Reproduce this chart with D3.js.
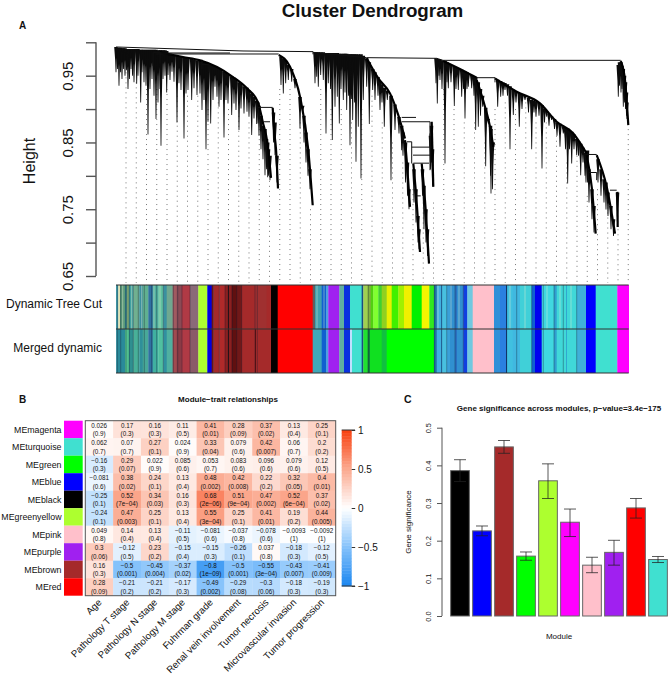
<!DOCTYPE html>
<html>
<head>
<meta charset="utf-8">
<script src="https://cdn.jsdelivr.net/npm/d3@7"></script>
<style>
body { margin: 0; background: #fff; }
text { font-family: "Liberation Sans", Arial, sans-serif; fill: #111; }
</style>
</head>
<body>
<div id="hook"></div>
<script>
// Panel A - dendrogram, x is leaf order, y is height. stems are [leaf, top, bottom]
var stemsFirst = [
[0,.993,.955],[1.5,.992,.96],[3,.992,.935],[4.5,.992,.955],[6,.991,.945],[7.5,.991,.96],[9,.991,.95],[10.5,.99,.958],[12,.99,.93],[13.5,.99,.945],
[15,.99,.96],[16.5,.99,.95],[18,.99,.94],[20.7,.99,.938],[22,.99,.95],[24.7,.989,.91],[26,.989,.955],[28,.989,.94],[30,.989,.935],[32,.989,.862],
[34,.989,.93],[36,.989,.945],[38,.989,.92],[40,.989,.885],[42,.988,.91],[44,.988,.93],[45,.988,.845],[47,.988,.945],[49,.988,.95],[50.7,.987,.925],
[52,.983,.951],[54,.983,.9435],[56,.982,.956],[58,.981,.941],[61,.98,.88],[63,.979,.9385],[65,.979,.9285],[68,.978,.856],[70,.977,.9235],[72,.976,.9285],
[75.7,.975,.9135],[78,.974,.931],[81,.973,.921],[84,.973,.9235],[86,.972,.8985],[88,.971,.9135],[90,.97,.84],[92,.969,.881],[94.7,.967,.8785],[97,.965,.9135],
[99,.964,.9335],[101,.963,.9185],[103,.961,.9035],[105,.959,.9135],[108,.956,.8575],[110,.954,.9135],[112,.952,.9085],[115.7,.949,.891],[118,.947,.9085],[120,.944,.8985],
[123,.94,.8685],[125,.938,.901],[128,.934,.8935],[131,.932,.896],[133,.928,.8885],[135.7,.923,.861],[138,.918,.886],[140.7,.912,.8775],[142,.91,.8785],
[143,.905,.86],[145,.89,.84],[147,.875,.825],[149,.87,.801],[150.5,.855,.81],[151.7,.85,.798],[152.5,.84,.8],[154,.83,.7935],[157.5,.895,.85],[159,.88,.831],[161,.83,.79]
];
var stemsSecond = [
[165,.978,.936],[167.3,.975,.9235],[169.7,.972,.9385],[172.3,.966,.9435],[175.7,.96,.941],[179,.945,.931],[184,.918,.871],[186.7,.905,.8935],
[188,.89,.85],[190,.865,.82],[192,.84,.8],[194,.81,.78]
];
var stemsThird = [
[199,.985,.9385],[200.7,.985,.9485],[202.3,.985,.9335],[204.7,.985,.951],[207.3,.985,.9435],[210,.984,.8635],[212.3,.984,.9385],[214.5,.984,.93],[216.3,.984,.8535],
[219,.984,.9035],[221.3,.984,.9185],[223.3,.983,.8785],[225,.983,.93],[227.3,.983,.9135],[229,.983,.925],[230.7,.983,.8985],[232.5,.982,.92],[234,.982,.846],[235.5,.982,.915],
[236.7,.982,.8835],[238.5,.982,.91],[240,.982,.821],[242.3,.982,.8735],[245,.982,.796],[247.3,.98,.9135],[250.7,.976,.9335],[253.3,.97,.8775],[256.7,.96,.9285],
[259,.955,.9135],[262,.948,.92],[264,.942,.8985],[266,.937,.91],[268.3,.932,.8735],[271.3,.928,.9135],[275,.92,.7935],[279,.907,.8685],[283,.888,.8635],[285.7,.875,.8385],
[287,.865,.83],[289.5,.85,.79],[291.5,.82,.77],[293,.78,.75],[298,.81,.76],[300,.78,.73],[302,.74,.70],[303,.72,.69],[306.5,.81,.77],[308,.785,.72],[310,.75,.70],[311.5,.72,.68],
[314.5,.86,.81],[315.5,.875,.82],[316.5,.84,.785]
];
var stemsFourth = [
[320,.976,.9385],[321.3,.975,.9085],[323,.975,.95],[324,.974,.9435],[326,.973,.93],[329,.972,.8185],[331,.97,.94],[332.3,.968,.931],[335,.966,.94],[338.3,.964,.9045],
[340,.963,.93],[342.3,.961,.9285],[345.7,.959,.9185],[347.5,.957,.93],[349,.956,.886],[351,.955,.93],[352.3,.954,.9335],[355.7,.951,.931],[358,.949,.92],[359.7,.948,.8685],
[362.3,.94,.8735],[364.5,.93,.89],[366.7,.92,.9035],[369.7,.902,.8145],[372.3,.885,.8785],[374.5,.875,.8],[375,.87,.7735],[376.5,.85,.78],[377.3,.85,.8385],
[381.7,.944,.9035],[384.7,.942,.9185],[387,.94,.92],[389,.939,.9285],[391.5,.937,.92],[394,.934,.84],[397.3,.929,.891],[400,.927,.91],[403.3,.924,.8735],[406,.922,.9],
[409,.92,.9135],[412.5,.917,.895],[415.7,.914,.84],[418,.912,.895],[420,.911,.8885],[423,.909,.89],[426,.906,.811],[428.5,.9,.88],[430.7,.897,.8885],[433,.893,.875],
[435.7,.889,.8835],[438.5,.885,.87],[441,.88,.86],[444,.878,.8435],[447.3,.874,.8635],[449.5,.872,.84],[451.7,.871,.7885],[453.5,.868,.84],[455.7,.866,.8185],[458,.862,.84],
[460.7,.855,.831],[462.5,.852,.83],[464.7,.848,.801],[467,.842,.82],[469,.835,.8],[470,.83,.79],[471.5,.838,.79],[473,.81,.76],[476,.78,.735],[478,.755,.715],
[482,.825,.79],[485,.81,.77],[488,.795,.76],[490,.79,.7495],[492,.775,.74],[495,.755,.72],[497.5,.735,.71],[501.5,.775,.725]
];
var stemsLast = [
[502.3,.966,.9185],[503.5,.97,.935],[505,.97,.925],[506,.965,.93],[507.3,.96,.9035],[508.5,.95,.91],[509.5,.94,.9],[510.5,.925,.89],[511,.91,.885]
];

// backbones are runs of [leaf, height]
var arcs = [
[[44,.985],[67,.978],[84,.973],[101,.963],[117,.948],[131,.931],[142,.91],[147,.879],[151,.853],[155,.797]],
[[156.7,.902],[158,.87],[160,.84],[162,.781]],
[[162.7,.981],[174,.9635],[184,.9185],[192.3,.8385],[196.7,.756]],
[[250.7,.976],[262.3,.946],[274,.9235],[282.3,.891],[289,.856]],
[[289,.8535],[290.7,.8235],[294,.7535]],
[[297.3,.8185],[300,.7735],[304,.686]],
[[305.7,.8185],[309,.7635],[313,.6685]],
[[315.7,.881],[317.3,.7835]],
[[327.3,.972],[347.3,.9575],[360.7,.947]],
[[360.7,.9435],[369,.9035],[374,.8735],[377.3,.8435]],
[[379,.946],[400.7,.926],[424,.9085],[440.7,.881],[457.3,.8635],[470.7,.8335]],
[[470.7,.831],[475.7,.7835],[479.7,.7135]],
[[480.7,.831],[490.7,.7835],[499,.7135]],
[[501.3,.776],[501.7,.7235]],
[[504.7,.972],[509,.9435],[512.3,.876]]
];
// thin merge lines, [leaf1, height1, leaf2, height2]
var merges = [
[0,.993,127,.987],[127,.987,197,.986],[40.7,.984,114,.984],[40,.9825,162.7,.9825],[197,.986,197,.982],
[197,.985,250.7,.977],[250.7,.977,320.7,.976],[327,.973,504.7,.973],[320.7,.976,327,.973],
[142,.9025,156.7,.9025],[147.3,.881,154,.881],[285.7,.8875,300,.8875],[285.7,.881,314,.881],[314,.881,314,.843],
[290.7,.851,295.7,.851],[295.7,.851,295.7,.8185],[295.7,.843,315.7,.843],[297,.831,314,.831],[297.3,.819,313,.819],
[314,.8635,314,.8085],[301,.77,304.7,.77],[360.7,.947,379,.947],[379,.947,379,.94],[470.7,.832,480.7,.832],
[494,.7785,500.7,.7785],[473.3,.805,480.7,.805],[480.7,.805,480.7,.7935],[44,.9855,44,.968],[37,.985,44,.985],[37,.985,37,.965],
[86,.974,86,.96],[86,.967,93,.967],[93,.967,93,.955]
];
// height where the dotted guide of each hang starts
var guideTops = [.955,.94,.93,.93,.93,.92,.92,.92,.9,.91,.9,.89,.88,.87,.8,.93,.93,.88,.75,.93,.9,.9,.88,.9,.92,.88,.85,.82,.78,.76,.76,.93,.9,.88,.88,.85,.9,.91,.9,.91,.88,.88,.86,.82,.83,.77,.78,.76,.72,.87];
var heightTicks = [.65,.7,.75,.8,.85,.9,.95,1];
var heightLabels = [.65,.75,.85,.95];

// module colour strips, [end leaf, colour]
var dynamicCut = [
[.3,"#2a8fa0"],[2.3,"#2a8fa0"],[4,"#e0e0b0"],[9,"#5a9a7a"],[10.7,"#2f7f8a"],[13,"#78a070"],[17.3,"#40a0a0"],[23.3,"#70b090"],[26.7,"#3a8fa0"],[32.3,"#60b090"],
[36.7,"#3070a0"],[42.3,"#50b0a0"],[47.3,"#60c0a0"],[50.7,"#3a90a0"],[56.7,"#70a890"],[60.7,"#a05a60"],[65.7,"#8a4a55"],[74,"#b03a45"],[82.3,"#8a6a78"],[91.3,"#adff2f"],
[95.7,"#0000e0"],[97.3,"#701515"],[103.3,"#a52a2a"],[109,"#b02a2a"],[112,"#8a2020"],[113,"#301010"],[115.7,"#8a2020"],[120.7,"#601010"],[125.7,"#701818"],[139,"#a52a2a"],
[150.7,"#a03030"],[155,"#a52a2a"],[161.7,"#000000"],[196.7,"#ff0000"],[199,"#606060"],[205.7,"#40a0b0"],[210,"#1060d0"],[212.3,"#50a0e0"],[223.3,"#a020f0"],[228,"#60b0a0"],
[234,"#0a30e0"],[245.7,"#40e0d0"],[247.3,"#2060a0"],[251.7,"#a0d050"],[254.7,"#80b040"],[257.3,"#50d010"],[262.3,"#80ff30"],[265.7,"#40d030"],[270.7,"#90d020"],[275.7,"#e8f000"],
[282.3,"#40f000"],[288,"#a0f000"],[295.7,"#f0f000"],[305.7,"#00f000"],[313.3,"#f5f500"],[318,"#30e820"],[320.7,"#2070a0"],[325,"#40b0e0"],[326,"#2a80c0"],[331,"#48c0e0"],
[334,"#3aa0d8"],[339,"#3090d0"],[341,"#2a70c0"],[347.3,"#3090d0"],[351.3,"#1040e0"],[356.7,"#70c8e0"],[378,"#ffc0cb"],[384,"#3090d8"],[390,"#2a80e0"],[391,"#104080"],[396.7,"#40c0e0"],
[404,"#40b8e0"],[415.7,"#40d0d8"],[419,"#1060d0"],[425.7,"#0000f0"],[438,"#40d8e0"],[440.7,"#30a0d0"],[450,"#40d8d8"],[451,"#30a8d0"],[460.7,"#40d8d8"],[470,"#40b0d8"],
[479.7,"#0000ff"],[501.3,"#40e0d0"],[512.7,"#ff00ff"]
];
var mergedCut = [
[.3,"#2a8a9a"],[9,"#2a8a9a"],[13,"#50c090"],[17.3,"#2f8f90"],[23.3,"#48b098"],[26.7,"#2f8f9a"],[32.3,"#48a898"],[36.7,"#3070a0"],[42.3,"#40b0a0"],[47.3,"#50c0a0"],
[50.7,"#3090a0"],[56.7,"#50b0a0"],[60.7,"#a04a50"],[65.7,"#8a3a45"],[74,"#b03a45"],[82.3,"#8a5a68"],[91.3,"#adff2f"],[95.7,"#0000e0"],[97.3,"#701515"],[103.3,"#a52a2a"],
[109,"#b02a2a"],[112,"#8a2020"],[113,"#301010"],[115.7,"#8a2020"],[120.7,"#601010"],[125.7,"#701818"],[139,"#a52a2a"],[140,"#601010"],[155,"#a52a2a"],[161.7,"#000000"],
[196.7,"#ff0000"],[205.7,"#40a8b8"],[210,"#1060d0"],[212.3,"#50a0e0"],[223.3,"#a020f0"],[228,"#60b0a0"],[234,"#0a30e0"],[236,"#c0e0ff"],[245.7,"#40e0d0"],[247.3,"#2060a0"],
[251.7,"#20e030"],[254,"#108040"],[265.7,"#10e020"],[270.7,"#10c040"],[318,"#00ff00"],[320.7,"#2070a0"],[325,"#40b0e0"],[326,"#2a80c0"],[331,"#48c0e0"],[334,"#3aa0d8"],
[339,"#3090d0"],[341,"#2a70c0"],[347.3,"#3090d0"],[351.3,"#1040e0"],[356.7,"#70c8e0"],[378,"#ffc0cb"],[384,"#3090d8"],[390,"#2a80e0"],[391,"#104080"],[396.7,"#40c0e0"],
[404,"#40b8e0"],[415.7,"#40d0d8"],[419,"#1060d0"],[425.7,"#0000f0"],[438,"#40d8e0"],[440.7,"#30a0d0"],[450,"#40d8d8"],[451,"#30a8d0"],[460.7,"#40d8d8"],[470,"#40b0d8"],
[479.7,"#0000ff"],[501.3,"#40e0d0"],[512.7,"#ff00ff"]
];
// single thin modules inside the strips, by leaf
var darkLeaves = [1.3,4.7,10,13.3,17.3,22.3,28.3,35.7,40.7,47.3,57.3,61.7,66,74,97.3,103.3,109,112.3,116.3,120.7,125.7,139,141.3,246.3,252.3,318.3,325.7,330.7,339,347.3,390.7,400.7,415.7,427.3,438,447.3,460.7];
var lightLeaves = [2.3,6.7,15.7,25.7,38,44,201,208,322,335,343,394,409,431,444,455];
var stripNames = ["Dynamic Tree Cut", "Merged dynamic"];

// Panel B - module trait table
var modules = ["MEmagenta","MEturquoise","MEgreen","MEblue","MEblack","MEgreenyellow","MEpink","MEpurple","MEbrown","MEred"];
var moduleColors = ["#ff00ff","#40e0d0","#00ff00","#0000ff","#000000","#adff2f","#ffc0cb","#a020f0","#a52a2a","#ff0000"];
var traits = ["Age","Pathology T stage","Pathology N stage","Pathology M stage","Fuhrman grade","Renal vein involvement","Tumor necrosis","Microvascular invasion","Tumor progression"];
var cors = [
[0.026,0.17,0.16,0.11,0.41,0.28,0.37,0.13,0.25],
[0.062,0.07,0.27,0.024,0.33,0.079,0.42,0.06,0.2],
[-0.16,0.29,0.022,0.085,0.053,0.083,0.096,0.079,0.12],
[-0.081,0.38,0.24,0.13,0.48,0.42,0.22,0.32,0.4],
[-0.25,0.52,0.34,0.16,0.68,0.51,0.47,0.52,0.37],
[-0.24,0.47,0.25,0.13,0.55,0.25,0.41,0.19,0.44],
[0.049,0.14,0.13,-0.11,-0.081,-0.037,-0.078,-0.0093,-0.0092],
[0.3,-0.12,0.23,-0.15,-0.15,-0.26,0.037,-0.18,-0.12],
[0.16,-0.5,-0.45,-0.37,-0.8,-0.5,-0.55,-0.43,-0.41],
[0.28,-0.21,-0.21,-0.17,-0.49,-0.29,-0.3,-0.18,-0.19]
];
var pvals = [
["0.9","0.3","0.3","0.5","0.01","0.09","0.02","0.4","0.1"],
["0.7","0.7","0.1","0.9","0.04","0.6","0.007","0.7","0.2"],
["0.3","0.07","0.9","0.6","0.7","0.6","0.6","0.6","0.5"],
["0.6","0.02","0.1","0.4","0.002","0.008","0.2","0.05","0.01"],
["0.1","7e-04","0.03","0.3","2e-06","9e-04","0.002","6e-04","0.02"],
["0.1","0.003","0.1","0.4","3e-04","0.1","0.01","0.2","0.005"],
["0.8","0.4","0.4","0.5","0.6","0.8","0.6","1","1"],
["0.06","0.5","0.2","0.4","0.3","0.1","0.8","0.3","0.5"],
["0.3","0.001","0.004","0.02","1e-09","0.001","3e-04","0.007","0.009"],
["0.09","0.2","0.2","0.3","0.002","0.08","0.06","0.3","0.3"]
];
var legendTicks = [-1,-0.5,0,0.5,1];

// Panel C - gene significance
var barModules = ["black","blue","brown","green","greenyellow","magenta","pink","purple","red","turquoise"];
var barColors = ["#000000","#0000ff","#a52a2a","#00ff00","#adff2f","#ff00ff","#ffc0cb","#a020f0","#ff0000","#40e0d0"];
var barValues = [.386,.226,.449,.159,.359,.249,.135,.169,.287,.150];
var barUpper = [.415,.239,.466,.170,.404,.284,.156,.201,.312,.158];
var barLower = [.357,.213,.432,.148,.312,.211,.115,.135,.260,.142];
var gsTicks = [0,.1,.2,.3,.4,.5];

var svg = d3.select("#hook").append("svg")
    .attr("width", 669)
    .attr("height", 674)
    .style("display", "block");

function minus(s) { return String(s).replace("-", "\u2212"); }

// panel letters and main title
svg.append("text").attr("x", 19).attr("y", 28.5).attr("font-size", 10).attr("font-weight", "bold").text("A");
svg.append("text").attr("x", 19).attr("y", 403).attr("font-size", 10).attr("font-weight", "bold").text("B");
svg.append("text").attr("x", 404).attr("y", 403).attr("font-size", 10.5).attr("font-weight", "bold").text("C");
svg.append("text").attr("x", 372.5).attr("y", 17).attr("text-anchor", "middle").attr("font-size", 18.8).attr("font-weight", "bold").text("Cluster Dendrogram");

// ---------- dendrogram
var x = d3.scaleLinear().domain([0, 512.7]).range([116, 628.7]);
var y = d3.scaleLinear().domain([.65, 1]).range([276, 42.3]);

var guides = svg.append("g");
guideTops.forEach(function(t, i) {
    guides.append("line")
        .attr("x1", x(10 + i * 10.25)).attr("x2", x(10 + i * 10.25))
        .attr("y1", y(t)).attr("y2", 283)
        .attr("stroke", "#777").attr("stroke-width", 1).attr("stroke-dasharray", "1,4");
});

var stems = stemsFirst.concat(stemsSecond, stemsThird, stemsFourth, stemsLast);
svg.append("g").selectAll("path").data(stems).enter().append("path")
    .attr("d", function(d) {
        var cx = x(d[0]), t = y(d[1]), b = y(d[2]), m = (t + b) / 2;
        return "M" + (cx - 1.8) + "," + t + "L" + (cx + 1.8) + "," + t +
               "L" + (cx + 0.85) + "," + m + "L" + (cx + 0.4) + "," + b +
               "L" + (cx - 0.4) + "," + b + "L" + (cx - 0.85) + "," + m + "Z";
    })
    .attr("fill", "#0c0c0c");

var arcLine = d3.line().x(function(d) { return x(d[0]); }).y(function(d) { return y(d[1]); }).curve(d3.curveMonotoneX);
svg.append("g").selectAll("path").data(arcs).enter().append("path")
    .attr("d", arcLine).attr("fill", "none").attr("stroke", "#000").attr("stroke-width", 2.2);

svg.append("g").selectAll("line").data(merges).enter().append("line")
    .attr("x1", function(d) { return x(d[0]); }).attr("y1", function(d) { return y(d[1]); })
    .attr("x2", function(d) { return x(d[2]); }).attr("y2", function(d) { return y(d[3]); })
    .attr("stroke", "#111").attr("stroke-width", 1);

var heightAxis = d3.axisLeft(y).tickValues(heightTicks).tickSize(10)
    .tickFormat(function(d) { return heightLabels.indexOf(d) >= 0 ? d3.format(".2f")(d) : ""; });
var ga = svg.append("g").attr("transform", "translate(96,0)").call(heightAxis);
ga.selectAll("line,path").attr("stroke", "#555").attr("stroke-width", 1.4);
ga.select(".domain").attr("d", "M0," + y(1) + "V" + y(.65));
ga.selectAll("text")
    .attr("font-size", 15).attr("text-anchor", "middle").attr("dy", 0).attr("y", 0).attr("x", 0)
    .attr("transform", "translate(-23,0) rotate(-90)");
svg.append("text").attr("transform", "translate(35,161) rotate(-90)").attr("text-anchor", "middle").attr("font-size", 16).text("Height");

// colour strips
var stripY = d3.scaleBand().domain(stripNames).range([285, 373]);
[dynamicCut, mergedCut].forEach(function(runs, k) {
    var g = svg.append("g");
    g.selectAll("rect").data(runs).enter().append("rect")
        .attr("x", function(d, i) { return x(i ? runs[i - 1][0] : 0); })
        .attr("width", function(d, i) { return x(d[0]) - x(i ? runs[i - 1][0] : 0) + 0.3; })
        .attr("y", stripY(stripNames[k])).attr("height", stripY.bandwidth())
        .attr("fill", function(d) { return d[1]; });
});
svg.append("g").selectAll("line").data(darkLeaves).enter().append("line")
    .attr("x1", function(d) { return x(d); }).attr("x2", function(d) { return x(d); })
    .attr("y1", 285).attr("y2", 373)
    .attr("stroke", "#101830").attr("stroke-opacity", .4).attr("stroke-width", .9);
svg.append("g").selectAll("line").data(lightLeaves).enter().append("line")
    .attr("x1", function(d) { return x(d); }).attr("x2", function(d) { return x(d); })
    .attr("y1", 285).attr("y2", 329)
    .attr("stroke", "#e8f0d0").attr("stroke-opacity", .5).attr("stroke-width", .9);
[285, 329, 373].forEach(function(v) {
    svg.append("line").attr("x1", x(0)).attr("x2", x(512.7)).attr("y1", v).attr("y2", v)
        .attr("stroke", "#333").attr("stroke-width", 1);
});
svg.selectAll(".stripname").data(stripNames).enter().append("text")
    .attr("class", "stripname").attr("x", 102)
    .attr("y", function(d) { return stripY(d) + stripY.bandwidth() / 2 + 1; })
    .attr("text-anchor", "end").attr("font-size", 12).text(function(d) { return d; });

// ---------- heatmap
var hx = d3.scaleBand().domain(traits).range([85.3, 335.7]);
var hy = d3.scaleBand().domain(modules).range([420.7, 595.7]);
var heat = d3.scaleLinear().domain([-1, -0.5, 0, 0.5, 1]).range(["#1a86f0", "#85c2fb", "#ffffff", "#fba98f", "#f8400f"]);

svg.append("text").attr("x", 228).attr("y", 402).attr("text-anchor", "middle").attr("font-size", 8).attr("font-weight", "bold").text("Module\u2212trait relationships");

modules.forEach(function(m, r) {
    var row = svg.append("g");
    row.append("rect").attr("x", 64).attr("y", hy(m)).attr("width", 18.7).attr("height", hy.bandwidth()).attr("fill", moduleColors[r]);
    row.append("text").attr("x", 61.5).attr("y", hy(m) + hy.bandwidth() / 2 + 3.2).attr("text-anchor", "end").attr("font-size", 8.8).text(m);
    traits.forEach(function(t, c) {
        row.append("rect").attr("x", hx(t)).attr("y", hy(m)).attr("width", hx.bandwidth() + .3).attr("height", hy.bandwidth() + .3).attr("fill", heat(cors[r][c]));
        row.append("text").attr("x", hx(t) + hx.bandwidth() / 2).attr("y", hy(m) + 7.2).attr("text-anchor", "middle").attr("font-size", 6.3).text(minus(cors[r][c]));
        row.append("text").attr("x", hx(t) + hx.bandwidth() / 2).attr("y", hy(m) + 15.6).attr("text-anchor", "middle").attr("font-size", 6.3).text("(" + minus(pvals[r][c]) + ")");
    });
});
svg.append("rect").attr("x", 85.3).attr("y", 420.7).attr("width", 250.4).attr("height", 175).attr("fill", "none").attr("stroke", "#555").attr("stroke-width", 1);

svg.selectAll(".trait").data(traits).enter().append("text")
    .attr("class", "trait")
    .attr("transform", function(d) { return "translate(" + (hx(d) + hx.bandwidth() / 2 + 3) + ",603) rotate(-45)"; })
    .attr("text-anchor", "end").attr("font-size", 9.7).text(function(d) { return d; });

// legend
var ly = d3.scaleLinear().domain([-1, 1]).range([586, 430]);
svg.append("g").selectAll("rect").data(d3.range(-1, 1, 0.04)).enter().append("rect")
    .attr("x", 341.7).attr("width", 10)
    .attr("y", function(d) { return ly(d + 0.04); })
    .attr("height", ly(0) - ly(0.04) + .4)
    .attr("fill", function(d) { return heat(d + 0.02); });
var legendAxis = d3.axisRight(ly).tickValues(legendTicks).tickSize(3.5).tickFormat(function(d) { return minus(d); });
var gl = svg.append("g").attr("transform", "translate(351.7,0)").call(legendAxis);
gl.select(".domain").remove();
gl.selectAll("line").attr("stroke", "#333");
gl.selectAll("text").attr("font-size", 10).attr("x", 6.3);
[-1, 1].forEach(function(v) {
    svg.append("line").attr("x1", 341.7).attr("x2", 355).attr("y1", ly(v)).attr("y2", ly(v)).attr("stroke", "#333").attr("stroke-width", 1);
});

// ---------- bars
var bx = d3.scaleBand().domain(barModules).range([449, 669]).paddingInner(.15).paddingOuter(.075);
var by = d3.scaleLinear().domain([0, .5]).range([616, 427.7]);

svg.append("g").selectAll("rect").data(barModules).enter().append("rect")
    .attr("x", function(d) { return bx(d); })
    .attr("y", function(d, i) { return by(barValues[i]); })
    .attr("width", bx.bandwidth())
    .attr("height", function(d, i) { return by(0) - by(barValues[i]); })
    .attr("fill", function(d, i) { return barColors[i]; })
    .attr("stroke", "#666").attr("stroke-width", 1);

var err = svg.append("g").attr("stroke", "#222").attr("stroke-opacity", .75).attr("stroke-width", 1);
barModules.forEach(function(m, i) {
    var cx = bx(m) + bx.bandwidth() / 2;
    err.append("line").attr("x1", cx).attr("x2", cx).attr("y1", by(barUpper[i])).attr("y2", by(barLower[i]));
    err.append("line").attr("x1", cx - 6).attr("x2", cx + 6).attr("y1", by(barUpper[i])).attr("y2", by(barUpper[i]));
    err.append("line").attr("x1", cx - 6).attr("x2", cx + 6).attr("y1", by(barLower[i])).attr("y2", by(barLower[i]));
});

var gsAxis = d3.axisLeft(by).tickValues(gsTicks).tickSize(5).tickFormat(d3.format(".1f"));
var gb = svg.append("g").attr("transform", "translate(442,0)").call(gsAxis);
gb.selectAll("line,path").attr("stroke", "#555");
gb.select(".domain").attr("d", "M0," + by(.5) + "V" + by(0));
gb.selectAll("text").attr("font-size", 7.4).attr("text-anchor", "middle").attr("y", 0).attr("x", 0).attr("dy", 0)
    .attr("transform", "translate(-11,0) rotate(-90)");

svg.append("text").attr("transform", "translate(411,522) rotate(-90)").attr("text-anchor", "middle").attr("font-size", 8).text("Gene significance");
svg.append("text").attr("x", 559).attr("y", 639).attr("text-anchor", "middle").attr("font-size", 8).text("Module");
svg.append("text").attr("x", 559).attr("y", 411).attr("text-anchor", "middle").attr("font-size", 8).attr("font-weight", "bold")
    .text("Gene significance across modules, p\u2212value=3.4e\u2212175");
</script>
</body>
</html>
